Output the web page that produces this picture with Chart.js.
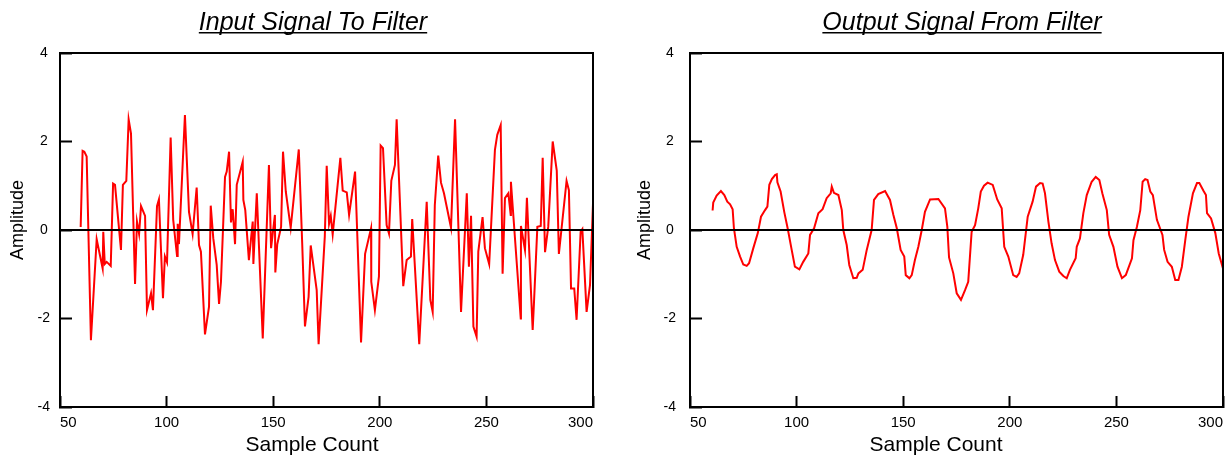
<!DOCTYPE html>
<html><head><meta charset="utf-8">
<script src="https://cdn.jsdelivr.net/npm/chart.js@4.4.0/dist/chart.umd.min.js"></script>
<style>
html,body{margin:0;padding:0;background:#fff;width:1228px;height:458px;overflow:hidden}
.box{position:absolute;top:0;height:458px;width:614px}
#b1{left:0}
#b2{left:614px}
</style></head><body>
<div class="box" id="b1"><canvas id="c1"></canvas></div>
<div class="box" id="b2"><canvas id="c2"></canvas></div>
<script>
// ---- data ----
const inputSamples = [59.7,60.6,61.4,62.5,64.5,67.2,70.0,70.3,71.0,71.9,73.8,74.9,75.8,78.6,79.5,81.1,82.2,83.3,85.2,86.1,87.1,88.0,89.9,90.8,92.7,93.6,95.5,96.4,98.3,99.2,100.2,101.9,103.1,104.9,105.2,105.8,108.6,110.5,112.2,114.1,115.2,116.1,118.0,119.9,120.7,121.9,123.5,124.6,125.5,127.4,128.2,129.3,130.2,131.0,132.1,132.9,135.7,136.0,136.9,138.6,140.4,140.7,142.3,145.1,148.0,149.0,150.8,151.0,151.9,153.7,154.6,155.9,158.2,162.0,163.6,164.9,166.6,167.6,170.4,171.3,174.2,175.1,176.2,177.0,177.9,181.5,182.6,184.5,185.6,188.4,191.2,193.1,195.9,196.0,197.7,199.6,200.4,201.5,203.2,204.3,205.4,207.1,207.9,211.0,212.6,214.6,215.2,218.5,222.0,223.7,224.8,225.8,227.4,228.7,230.1,233.4,235.3,238.1,240.8,241.8,242.8,243.9,245.4,246.2,248.2,249.3,251.3,254.0,255.1,256.7,257.6,258.7,260.3,261.4,261.5,266.1,266.2,268.1,269.0,271.7,272.3,273.9,275.5,276.4,277.5,279.0,281.1,283.0,284.0,287.6,288.7,289.7,291.2,292.3,294.2,295.0,297.0,298.6,300.0];
const inputAmplitude = [0.07,1.79,1.77,1.66,-2.49,-0.21,-0.87,-0.04,-0.77,-0.72,-0.81,1.05,1.02,-0.45,1.02,1.11,2.50,2.18,-1.22,0.19,-0.09,0.54,0.32,-1.81,-1.43,-1.81,0.54,0.69,-1.54,-0.60,-0.73,2.09,0.23,-0.59,0.14,-0.32,2.60,0.41,-0.09,0.96,-0.34,-0.49,-2.36,-1.73,0.55,-0.19,-0.79,-1.67,-1.17,1.20,1.32,1.77,0.17,0.47,-0.32,1.02,1.54,0.68,0.45,-0.68,0.19,-0.77,0.83,-2.45,1.47,-0.41,0.34,-0.96,-0.32,0.07,1.77,0.87,0.05,1.82,-0.30,-2.18,-1.51,-0.35,-1.36,-2.58,-0.15,1.45,0.14,0.32,-0.10,1.63,0.89,0.85,0.34,1.32,-2.54,-0.54,0.04,-1.17,-1.81,-1.05,1.91,1.85,0.11,-0.08,1.11,1.47,2.50,-1.27,-0.68,-0.60,0.25,-2.58,0.64,-1.58,-1.85,0.56,1.68,1.07,0.83,0.05,2.50,-1.85,0.83,-0.83,0.32,-2.18,-2.41,-0.49,0.29,-0.41,-0.77,1.81,2.15,2.37,-0.99,0.72,0.83,0.34,1.09,-2.00,0.09,-0.45,0.73,-2.26,-1.66,0.07,0.09,1.63,-0.50,0.07,2.00,1.34,-0.54,1.11,0.90,-1.32,-1.32,-2.03,-0.04,0.02,-1.85,-1.24,0.60];
const outputSamples = [60.6,60.9,62.5,64.5,66.1,67.5,68.8,70.0,70.6,71.9,73.5,75.0,76.6,77.7,79.7,81.8,83.3,85.2,86.3,87.2,88.4,89.9,90.7,91.0,92.5,94.2,95.8,97.7,99.2,101.3,103.1,105.5,106.3,108.2,110.2,112.2,114.1,116.0,116.5,117.5,119.6,121.2,121.9,123.5,124.7,126.6,128.2,129.0,131.0,132.9,135.2,136.3,138.3,141.5,143.8,145.4,147.0,148.8,150.5,151.2,152.9,154.0,155.5,157.1,158.7,160.2,162.6,166.5,169.6,170.7,171.5,173.5,175.1,177.1,179.0,180.5,182.1,183.7,185.2,186.4,187.9,189.6,192.0,194.1,196.2,197.4,199.3,201.6,203.2,204.4,206.3,208.4,210.7,212.3,214.2,215.4,216.5,218.1,219.6,221.2,223.2,225.1,226.7,228.2,230.9,231.4,232.9,234.5,236.1,238.4,240.3,242.0,243.4,245.5,246.6,248.6,250.5,252.6,254.4,257.3,258.0,259.6,261.2,262.3,263.5,264.6,265.9,267.1,269.0,271.6,272.4,274.0,276.0,277.6,279.1,280.7,282.3,283.8,285.9,287.8,288.9,290.9,292.0,292.5,294.4,296.4,298.0,300.0];
const outputAmplitude = [0.44,0.62,0.78,0.88,0.79,0.64,0.58,0.47,0.04,-0.38,-0.60,-0.78,-0.81,-0.75,-0.41,-0.07,0.30,0.45,0.53,1.02,1.15,1.24,1.26,1.08,0.87,0.41,0.04,-0.45,-0.83,-0.89,-0.72,-0.53,-0.11,0.04,0.38,0.47,0.72,0.83,0.98,0.84,0.79,0.45,0.00,-0.34,-0.79,-1.09,-1.08,-0.98,-0.90,-0.45,0.00,0.68,0.81,0.88,0.68,0.34,0.04,-0.45,-0.60,-1.02,-1.09,-1.02,-0.68,-0.38,0.00,0.41,0.69,0.70,0.49,0.07,-0.62,-0.98,-1.43,-1.58,-1.36,-1.17,-0.04,0.11,0.49,0.87,1.00,1.07,1.02,0.69,0.49,-0.38,-0.60,-1.02,-1.06,-0.98,-0.56,0.30,0.64,0.98,1.06,1.05,0.83,0.19,-0.30,-0.68,-0.94,-1.04,-1.09,-0.90,-0.64,-0.38,-0.19,0.38,0.79,1.09,1.20,1.13,0.83,0.45,-0.11,-0.38,-0.83,-1.09,-1.02,-0.64,-0.23,0.07,0.45,1.09,1.15,1.13,0.87,0.79,0.23,-0.11,-0.45,-0.72,-0.83,-1.13,-1.13,-0.83,-0.23,0.30,0.83,1.06,1.06,0.88,0.79,0.38,0.26,-0.07,-0.53,-0.87];
const xTickValues = [50,100,150,200,250,300];
const yTickValues = [-4,-2,0,2,4];
const chartTitles = ['Input Signal To Filter','Output Signal From Filter'];
const xAxisLabel = 'Sample Count';
const yAxisLabel = 'Amplitude';

const FONT = '"Liberation Sans", Arial, Helvetica, sans-serif';

const framePlugin = {
  id: 'frame',
  afterDatasetsDraw(chart) {
    const {ctx, chartArea: a, scales} = chart;
    ctx.save();
    ctx.strokeStyle = '#000';
    ctx.lineWidth = 2;
    const y0 = Math.round(scales.y.getPixelForValue(0));
    ctx.beginPath();
    ctx.moveTo(a.left, y0); ctx.lineTo(a.right, y0);
    ctx.stroke();
    ctx.beginPath();
    ctx.moveTo(a.left, a.top); ctx.lineTo(a.right, a.top); ctx.lineTo(a.right, a.bottom);
    ctx.stroke();
    ctx.restore();
  }
};
const textPlugin = {
  id: 'texts',
  afterDraw(chart, args, o) {
    const ctx = chart.ctx;
    ctx.save();
    ctx.fillStyle = '#000';
    // chart title, italic + underlined
    ctx.font = 'italic ' + o.titleSize + 'px ' + FONT;
    ctx.textAlign = 'center';
    ctx.textBaseline = 'alphabetic';
    ctx.fillText(o.title, o.titleX, o.titleY);
    const w = ctx.measureText(o.title).width;
    ctx.fillRect(o.titleX - w / 2, o.titleY + 2, w, 1.5);
    // x axis title
    ctx.font = o.xSize + 'px ' + FONT;
    ctx.textBaseline = 'middle';
    ctx.fillText(o.xLabel, o.xLabelX, o.xLabelY);
    // y axis title
    ctx.font = o.ySize + 'px ' + FONT;
    ctx.translate(o.yLabelX, o.yLabelY);
    ctx.rotate(-Math.PI / 2);
    ctx.fillText(o.yLabel, 0, 0);
    ctx.restore();
  }
};

function makeChart(id, xs, ys, title, geo) {
  const points = xs.map((x, i) => ({x: x, y: ys[i]}));
  return new Chart(document.getElementById(id), {
    type: 'line',
    data: {datasets: [{data: points, borderColor: '#ff0000', borderWidth: 2, pointRadius: 0, tension: 0, fill: false}]},
    options: {
      responsive: true, maintainAspectRatio: false, animation: false,
      layout: {padding: {left: 0, right: geo.padRight, top: 53, bottom: 0}},
      plugins: {
        legend: {display: false}, tooltip: {enabled: false},
        texts: {
          title: title, titleX: geo.titleX, titleY: 30, titleSize: 25,
          xLabel: xAxisLabel, xLabelX: geo.xLabelX, xLabelY: 445, xSize: 21,
          yLabel: yAxisLabel, yLabelX: geo.yLabelX, yLabelY: 220, ySize: 18
        }
      },
      scales: {
        x: {
          type: 'linear', min: 50, max: 300,
          afterBuildTicks: s => { s.ticks = xTickValues.map(v => ({value: v})); },
          afterFit: s => { s.height = 51; s.paddingLeft = 0; s.paddingRight = 0; },
          grid: {drawOnChartArea: false, drawTicks: true, tickLength: -11, tickColor: '#000', tickWidth: 2},
          border: {display: true, color: '#000', width: 2},
          ticks: {color: '#000', font: {family: FONT, size: 15}, padding: 18, maxRotation: 0, autoSkip: false, align: 'inner'},
          title: {display: false, text: xAxisLabel}
        },
        y: {
          type: 'linear', min: -4, max: 4,
          afterBuildTicks: s => { s.ticks = yTickValues.map(v => ({value: v})); },
          afterFit: s => { s.width = geo.yWidth; s.paddingTop = 0; s.paddingBottom = 0; },
          grid: {drawOnChartArea: false, drawTicks: true, tickLength: -12, tickColor: '#000', tickWidth: 2},
          border: {display: true, color: '#000', width: 2},
          ticks: {color: '#000', font: {family: FONT, size: 14}, padding: geo.yTickPad, crossAlign: 'center', autoSkip: false},
          title: {display: false, text: yAxisLabel}
        }
      }
    },
    plugins: [framePlugin, textPlugin]
  });
}

makeChart('c1', inputSamples, inputAmplitude, chartTitles[0], {padRight: 21, yWidth: 60, yTickPad: 22, titleX: 313, xLabelX: 312, yLabelX: 18, });
makeChart('c2', outputSamples, outputAmplitude, chartTitles[1], {padRight: 5, yWidth: 76, yTickPad: 26, titleX: 348, xLabelX: 322, yLabelX: 31});
</script>
</body></html>
